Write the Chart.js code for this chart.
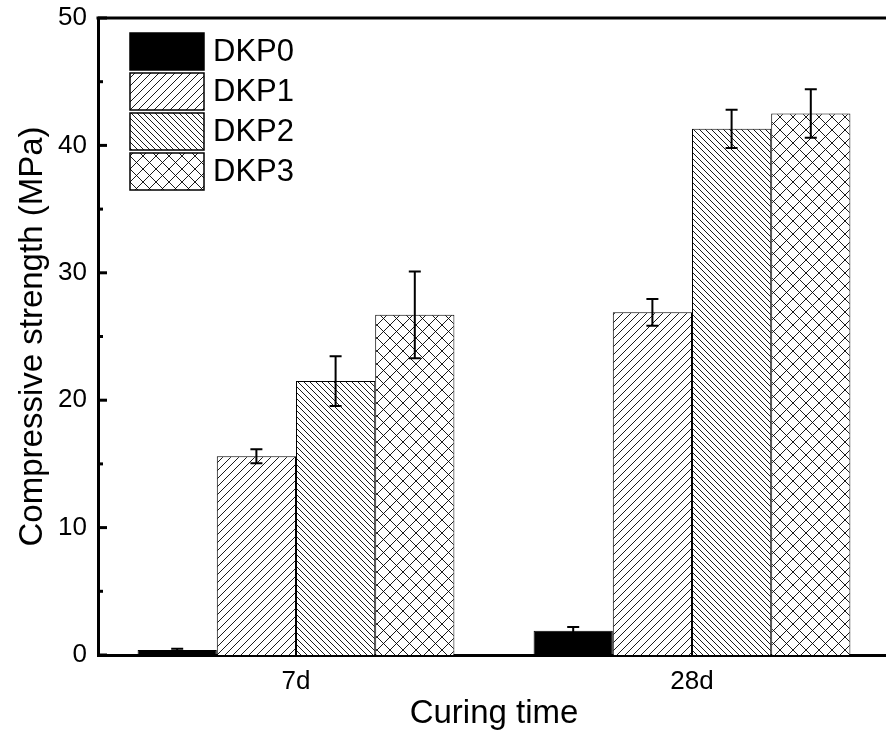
<!DOCTYPE html>
<html>
<head>
<meta charset="utf-8">
<script src="https://cdn.jsdelivr.net/npm/chart.js@4"></script>
<style>
  html, body { margin: 0; padding: 0; background: #fff; overflow: hidden; }
  #wrap { width: 892px; height: 738px; }
</style>
</head>
<body>
<div id="wrap"><canvas id="chart" width="892" height="738"></canvas></div>
<script>
const curingTimes = ['7d', '28d'];
const seriesNames = ['DKP0', 'DKP1', 'DKP2', 'DKP3'];
const dkp0 = [0.4, 1.9];
const dkp1 = [15.6, 26.9];
const dkp2 = [21.5, 41.3];
const dkp3 = [26.7, 42.5];
const dkp0Err = [0.1, 0.3];
const dkp1Err = [0.55, 1.05];
const dkp2Err = [1.95, 1.5];
const dkp3Err = [3.4, 1.9];
const yTicks = [0, 10, 20, 30, 40, 50];

const FONT = '"Liberation Sans", Arial, sans-serif';

// hatch patterns
function makePattern(kind, size) {
    const c = document.createElement('canvas');
    c.width = size;
    c.height = size;
    const g = c.getContext('2d');
    g.fillStyle = '#fff';
    g.fillRect(0, 0, size, size);
    g.strokeStyle = '#000';
    g.lineWidth = 0.9;
    const fwd = () => {
        g.beginPath();
        g.moveTo(-1, size + 1); g.lineTo(size + 1, -1);
        g.moveTo(-1, 1); g.lineTo(1, -1);
        g.moveTo(size - 1, size + 1); g.lineTo(size + 1, size - 1);
        g.stroke();
    };
    const back = () => {
        g.beginPath();
        g.moveTo(-1, -1); g.lineTo(size + 1, size + 1);
        g.moveTo(size - 1, -1); g.lineTo(size + 1, 1);
        g.moveTo(-1, size - 1); g.lineTo(1, size + 1);
        g.stroke();
    };
    if (kind === 'fwd') fwd();
    if (kind === 'back') back();
    if (kind === 'cross') { fwd(); back(); }
    return document.getElementById('chart').getContext('2d').createPattern(c, 'repeat');
}

const fills = ['#000', makePattern('fwd', 8), makePattern('back', 6), makePattern('cross', 13)];
const values = [dkp0, dkp1, dkp2, dkp3];
const errors = [dkp0Err, dkp1Err, dkp2Err, dkp3Err];

const datasets = seriesNames.map((name, i) => ({
    label: name,
    data: values[i],
    errors: errors[i],
    backgroundColor: fills[i],
    borderColor: '#000',
    borderWidth: 1,
    categoryPercentage: 0.8,
    barPercentage: 1.0
}));

const extras = {
    id: 'extras',
    afterDatasetsDraw(chart) {
        const ctx = chart.ctx;
        const y = chart.scales.y;
        const area = chart.chartArea;
        ctx.save();

        // error bars
        ctx.strokeStyle = '#000';
        chart.data.datasets.forEach((ds, di) => {
            const meta = chart.getDatasetMeta(di);
            meta.data.forEach((bar, i) => {
                const v = ds.data[i], e = ds.errors[i];
                const yTop = y.getPixelForValue(v + e);
                const yBot = y.getPixelForValue(v - e);
                ctx.lineWidth = 2;
                ctx.beginPath();
                ctx.moveTo(bar.x, yTop); ctx.lineTo(bar.x, yBot);
                ctx.moveTo(bar.x - 6, yTop); ctx.lineTo(bar.x + 6, yTop);
                ctx.moveTo(bar.x - 6, yBot); ctx.lineTo(bar.x + 6, yBot);
                ctx.stroke();
            });
        });

        // frame: top and right edges
        ctx.lineWidth = 3;
        ctx.beginPath();
        ctx.moveTo(area.left - 1.5, area.top);
        ctx.lineTo(area.right, area.top);
        ctx.lineTo(area.right, area.bottom);
        ctx.stroke();

        // inward ticks on y axis
        for (let v = 0; v <= 50; v += 5) {
            const py = y.getPixelForValue(v);
            const len = v % 10 === 0 ? 9 : 5;
            ctx.lineWidth = 3;
            ctx.beginPath();
            ctx.moveTo(area.left, py);
            ctx.lineTo(area.left + len, py);
            ctx.stroke();
        }

        // legend inside plot
        const lx = 130, bw = 74, bh = 37, step = 40;
        let ly = 33;
        ctx.font = '31px ' + FONT;
        ctx.textBaseline = 'middle';
        chart.data.datasets.forEach((ds) => {
            ctx.fillStyle = ds.backgroundColor;
            ctx.fillRect(lx, ly, bw, bh);
            ctx.lineWidth = 1.5;
            ctx.strokeStyle = '#000';
            ctx.strokeRect(lx, ly, bw, bh);
            ctx.fillStyle = '#000';
            ctx.fillText(ds.label, lx + bw + 9, ly + bh / 2 + 1);
            ly += step;
        });
        ctx.restore();
    }
};

new Chart(document.getElementById('chart'), {
    type: 'bar',
    data: { labels: curingTimes, datasets: datasets },
    plugins: [extras],
    options: {
        responsive: false,
        animation: false,
        layout: { padding: { top: 18, right: 2, left: 0, bottom: 0 } },
        plugins: { legend: { display: false }, tooltip: { enabled: false } },
        scales: {
            x: {
                grid: { display: false, drawTicks: false },
                border: { display: true, width: 3, color: '#000' },
                ticks: { color: '#000', font: { family: FONT, size: 26 }, padding: 11 },
                title: {
                    display: true, text: 'Curing time', color: '#000',
                    font: { family: FONT, size: 33 }, padding: { top: 8 }
                },
                afterFit(scale) { scale.height = 83; }
            },
            y: {
                min: 0, max: 50,
                afterBuildTicks(scale) { scale.ticks = yTicks.map(v => ({ value: v })); },
                grid: { display: false, drawTicks: false },
                border: { display: true, width: 3, color: '#000' },
                ticks: { color: '#000', font: { family: FONT, size: 26 }, padding: 11 },
                title: {
                    display: true, text: 'Compressive strength (MPa)', color: '#000',
                    font: { family: FONT, size: 33 }, padding: { top: 13 }
                },
                afterFit(scale) {
                    scale.width = 98;
                    scale.paddingTop = 0;
                    scale.paddingBottom = 0;
                }
            }
        }
    }
});
</script>
</body>
</html>
